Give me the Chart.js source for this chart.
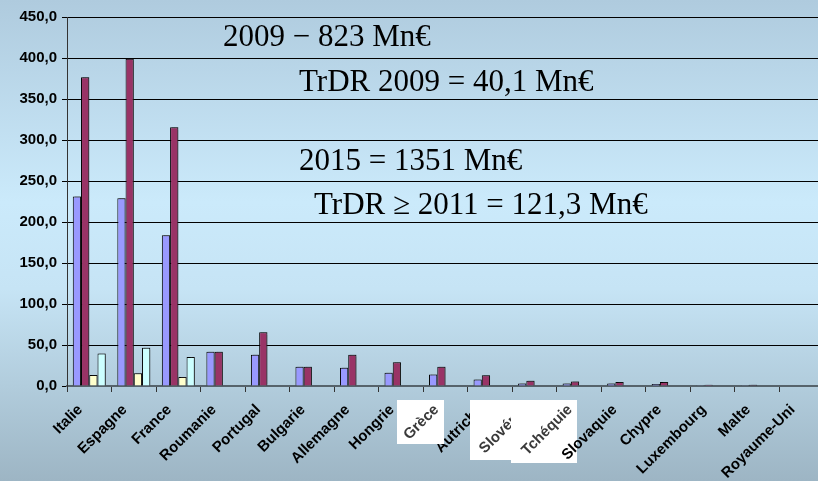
<!DOCTYPE html>
<html>
<head>
<meta charset="utf-8">
<script src="https://cdn.jsdelivr.net/npm/chart.js@4"></script>
<style>
html, body {
    margin: 0;
    padding: 0;
    width: 818px;
    height: 481px;
    overflow: hidden;
    background: linear-gradient(to bottom, #afcbde 0%, #cbeafb 42%, #c6e4f5 60%, #9db5c4 100%);
}
#wrap { position: absolute; left: 0; top: 0; width: 824px; height: 481px; }
</style>
</head>
<body>
<div id="wrap"><canvas id="chart"></canvas></div>
<script>
// countries, left to right
const countries = ['Italie', 'Espagne', 'France', 'Roumanie', 'Portugal', 'Bulgarie', 'Allemagne', 'Hongrie',
    'Grèce', 'Autriche', 'Slovénie', 'Tchéquie', 'Slovaquie', 'Chypre', 'Luxembourg', 'Malte', 'Royaume-Uni'];
// Mn€
const alloc2009 = [231.0, 229.0, 183.7, 41.9, 38.2, 23.6, 22.4, 16.3, 13.9, 7.8, 3.2, 3.0, 3.2, 2.5, 0.3, 0.2, 0];
const alloc2015 = [376.5, 399.0, 315.4, 41.9, 65.5, 23.6, 38.2, 28.9, 23.6, 13.1, 6.5, 5.5, 4.8, 4.8, 1.6, 1.4, 0];
const trdr2009 = [13.5, 15.7, 10.9, null, null, null, null, null, null, null, null, null, null, null, null, null, null];
const trdr2011 = [39.5, 46.5, 35.3, null, null, null, null, null, null, null, null, null, null, null, null, null, null];
const yMax = 450;
const yStep = 50;

const notes = [
    { text: '2009 − 823 Mn€', x: 223, y: 46 },
    { text: 'TrDR 2009 = 40,1 Mn€', x: 299, y: 91 },
    { text: '2015 = 1351 Mn€', x: 299, y: 170 },
    { text: 'TrDR ≥ 2011 = 121,3 Mn€', x: 314, y: 214 }
];

// white patches that sit over some country names on the slide
const patches = [
    { label: 'Grèce', x: 397, y: 400, w: 47, h: 44 },
    { label: 'Slovénie', x: 470, y: 400, w: 41.5, h: 60 },
    { label: 'Tchéquie', x: 511, y: 400, w: 66, h: 63 }
];
const onTop = ['Slovaquie'];

function drawLabelItem(ctx, item, color) {
    ctx.save();
    ctx.translate(item.options.translation[0], item.options.translation[1]);
    ctx.rotate(item.options.rotation);
    ctx.font = item.font.string;
    ctx.fillStyle = color;
    ctx.textAlign = item.options.textAlign;
    ctx.textBaseline = item.options.textBaseline;
    ctx.fillText(item.label, 0, item.textOffset);
    ctx.restore();
}

const slideExtras = {
    id: 'slideExtras',
    beforeDatasetsDraw(chart) {
        const ctx = chart.ctx;
        ctx.save();
        ctx.shadowColor = 'rgba(50, 50, 50, 0.45)';
        ctx.shadowOffsetX = 2;
        ctx.shadowOffsetY = -1;
        ctx.shadowBlur = 1;
    },
    afterDatasetsDraw(chart) {
        chart.ctx.restore();
    },
    afterDraw(chart) {
        const ctx = chart.ctx;
        const items = chart.scales.x.getLabelItems();
        patches.forEach(p => {
            ctx.save();
            ctx.fillStyle = '#ffffff';
            ctx.fillRect(p.x, p.y, p.w, p.h);
            ctx.beginPath();
            ctx.rect(p.x, p.y, p.w, p.h);
            ctx.clip();
            const it = items.find(i => i.label === p.label);
            if (it) drawLabelItem(ctx, it, '#3a3a3a');
            ctx.restore();
        });
        onTop.forEach(l => {
            const it = items.find(i => i.label === l);
            if (it) drawLabelItem(ctx, it, '#000000');
        });
        ctx.save();
        ctx.font = '31px "Liberation Serif", "Times New Roman", serif';
        ctx.fillStyle = '#000';
        ctx.textAlign = 'left';
        ctx.textBaseline = 'alphabetic';
        notes.forEach(n => ctx.fillText(n.text, n.x, n.y));
        ctx.restore();
    }
};

const border = '#000000';

new Chart(document.getElementById('chart'), {
    type: 'bar',
    data: {
        labels: countries,
        datasets: [
            { label: '2009', data: alloc2009, backgroundColor: '#9999ff', borderColor: border, borderWidth: 1 },
            { label: '2015', data: alloc2015, backgroundColor: '#993366', borderColor: border, borderWidth: 1 },
            { label: 'TrDR 2009', data: trdr2009, backgroundColor: '#ffffcc', borderColor: border, borderWidth: 1 },
            { label: 'TrDR 2011', data: trdr2011, backgroundColor: '#ccffff', borderColor: border, borderWidth: 1 }
        ]
    },
    options: {
        responsive: true,
        maintainAspectRatio: false,
        animation: false,
        layout: { padding: { top: 17, right: 0, left: 0, bottom: 0 } },
        plugins: { legend: { display: false }, tooltip: { enabled: false } },
        datasets: { bar: { categoryPercentage: 0.74, barPercentage: 1.0, borderSkipped: 'start' } },
        scales: {
            x: {
                grid: { display: true, drawOnChartArea: false, drawTicks: true, tickLength: 6, color: '#333', offset: true },
                border: { display: true, color: '#56636b', width: 2 },
                ticks: {
                    autoSkip: false,
                    minRotation: 45,
                    maxRotation: 45,
                    labelOffset: -9,
                    padding: 9,
                    color: c => onTop.includes(countries[c.index]) ? 'rgba(0,0,0,0)' : '#000',
                    font: { family: '"Liberation Sans", Arial, sans-serif', size: 15, weight: 'bold' }
                },
                afterFit(scale) { scale.height = 95; }
            },
            y: {
                min: 0,
                max: yMax,
                grid: { color: '#000', lineWidth: 1, tickLength: 5, drawTicks: true },
                border: { display: true, color: '#333', width: 1 },
                ticks: {
                    stepSize: yStep,
                    padding: 5,
                    color: '#000',
                    font: { family: '"Liberation Sans", Arial, sans-serif', size: 15, weight: 'bold' },
                    callback: v => v.toFixed(1).replace('.', ',')
                },
                afterFit(scale) { scale.width = 67; }
            }
        }
    },
    plugins: [slideExtras]
});
</script>
</body>
</html>
